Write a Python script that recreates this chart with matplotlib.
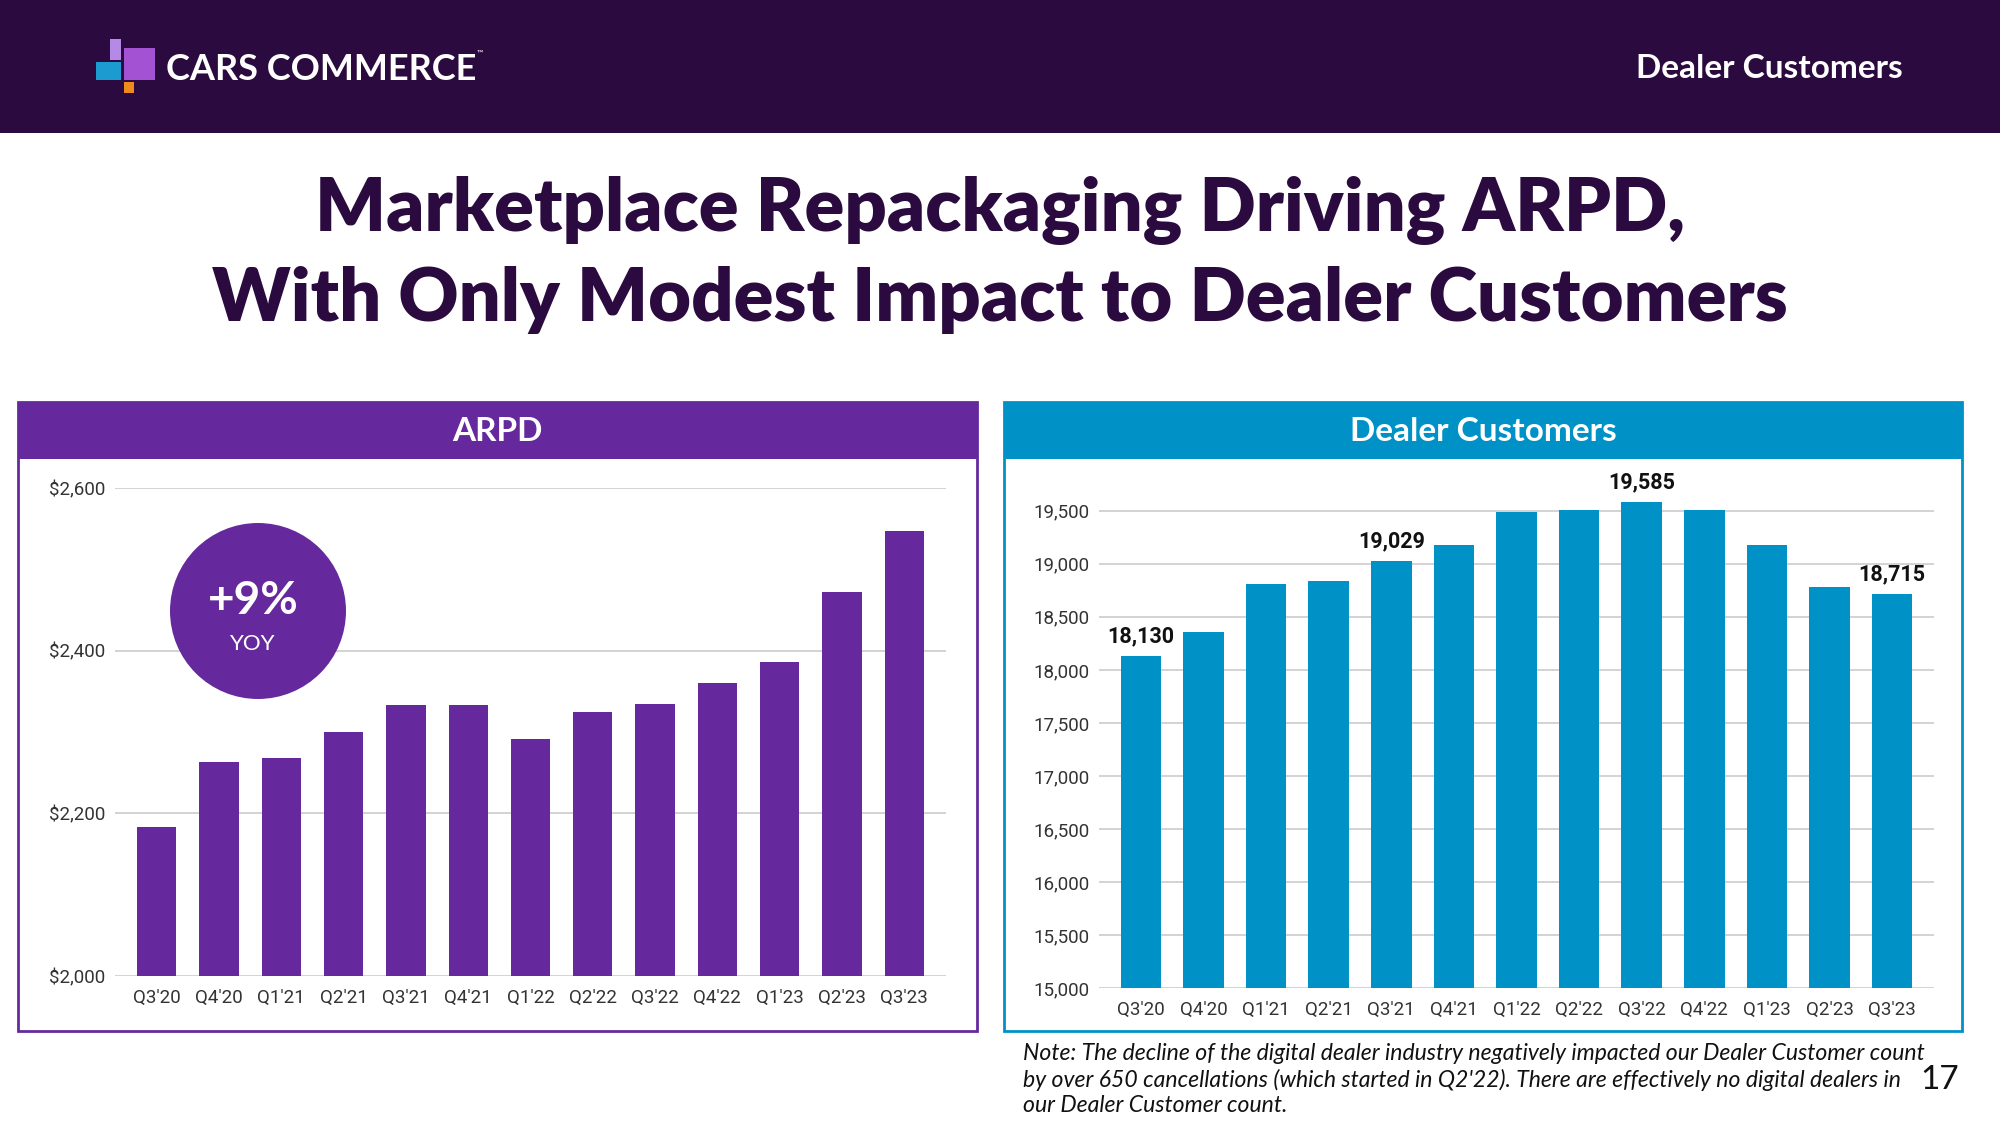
import matplotlib.pyplot as plt
from matplotlib.patches import Rectangle, Circle
from matplotlib.ticker import FuncFormatter

quarters = ["Q3'20", "Q4'20", "Q1'21", "Q2'21", "Q3'21", "Q4'21", "Q1'22",
            "Q2'22", "Q3'22", "Q4'22", "Q1'23", "Q2'23", "Q3'23"]
arpd = [2183, 2263, 2268, 2300, 2333, 2333, 2291, 2325, 2335, 2360, 2386, 2472, 2547]
dealers = [18130, 18356, 18811, 18838, 19029, 19177, 19489, 19504, 19585,
           19504, 19177, 18784, 18715]
labeled = [0, 4, 8, 12]

arpd_ticks = [2000, 2200, 2400, 2600]
dealer_ticks = [15000, 15500, 16000, 16500, 17000, 17500, 18000, 18500, 19000, 19500]

DARK = "#2B0B3F"
PURPLE = "#65299D"
BLUE = "#0092C7"
GRID = "#CCCCCC"
W, H = 2000, 1125

plt.rcParams["font.family"] = ["Lato", "DejaVu Sans"]

fig = plt.figure(figsize=(20, 11.25), dpi=100)


def rect(x0, y0, x1, y1, **kw):
    fig.add_artist(Rectangle((x0 / W, 1 - y1 / H), (x1 - x0) / W, (y1 - y0) / H,
                             transform=fig.transFigure, zorder=-1, **kw))


def fx(px):
    return px / W


def fy(py):
    return 1 - py / H


# top banner
rect(0, 0, W, 133, color=DARK, lw=0)
rect(110, 39, 121, 60, color="#B58AE6", lw=0)
rect(124, 48, 155, 80, color="#A352D3", lw=0)
rect(96, 62, 121, 80, color="#1C9BD0", lw=0)
rect(124, 82, 134, 93, color="#F08A1C", lw=0)
fig.text(fx(166), fy(80), "CARS COMMERCE", color="white", fontsize=26,
         fontweight="bold", va="baseline")
fig.text(fx(477), fy(56), "™", color="white", fontsize=6, va="baseline")
fig.text(fx(1903), fy(69), "Dealer Customers", color="white", fontsize=24,
         fontweight="bold", ha="right", va="center")

# title
fig.text(0.5, fy(231), "Marketplace Repackaging Driving ARPD,", color=DARK,
         fontsize=53.3, fontweight="heavy", ha="center", va="baseline")
fig.text(0.5, fy(321), "With Only Modest Impact to Dealer Customers", color=DARK,
         fontsize=53.3, fontweight="heavy", ha="center", va="baseline")

# panels
rect(18, 402, 977, 1031, facecolor="white", edgecolor=PURPLE, lw=2)
rect(18, 402, 977, 459, color=PURPLE, lw=0)
fig.text(fx(497), fy(431), "ARPD", color="white", fontsize=24,
         fontweight="bold", ha="center", va="center")
rect(1004, 402, 1962, 1031, facecolor="white", edgecolor=BLUE, lw=2)
rect(1004, 402, 1962, 459, color=BLUE, lw=0)
fig.text(fx(1483), fy(431), "Dealer Customers", color="white", fontsize=24,
         fontweight="bold", ha="center", va="center")

x = range(len(quarters))

# ARPD chart
ax1 = fig.add_axes([fx(115), fy(976), (946 - 115) / W, (976 - 488) / H])
ax1.bar(x, arpd, width=0.63, color=PURPLE, zorder=3)
ax1.set_ylim(2000, 2600)
ax1.set_yticks(arpd_ticks)
ax1.yaxis.set_major_formatter(FuncFormatter(lambda v, p: f"${v:,.0f}"))

# Dealer chart
ax2 = fig.add_axes([fx(1099), fy(988), (1934 - 1099) / W, (988 - 479) / H])
ax2.bar(x, dealers, width=0.65, color=BLUE, zorder=3)
ax2.set_ylim(15000, 19800)
ax2.set_yticks(dealer_ticks)
ax2.yaxis.set_major_formatter(FuncFormatter(lambda v, p: f"{v:,.0f}"))
for i in labeled:
    ax2.annotate(f"{dealers[i]:,}", (i, dealers[i]), xytext=(0, 6),
                 textcoords="offset points", ha="center", va="bottom",
                 fontsize=15.5, fontweight="bold", color="#111111",
                 family="Roboto")

for ax in (ax1, ax2):
    ax.set_zorder(2)
    ax.set_xlim(-0.67, 12.67)
    ax.set_xticks(list(x))
    ax.set_xticklabels(quarters)
    ax.patch.set_alpha(0)
    for s in ax.spines.values():
        s.set_visible(False)
    ax.grid(axis="y", color=GRID, lw=1.2, zorder=0)
    ax.tick_params(length=0, labelsize=13.5, colors="#333333", pad=7)
    ax.tick_params(axis="x", pad=9.5)
    for lab in ax.get_xticklabels() + ax.get_yticklabels():
        lab.set_family("Roboto")

# YoY badge
fig.add_artist(Circle((2.58, 11.25 - 6.11), 0.88, transform=fig.dpi_scale_trans,
                      color=PURPLE, lw=0, zorder=5))
fig.text(fx(253), fy(601), "+9%", color="white", fontsize=33,
         fontweight="bold", ha="center", va="center", zorder=6)
fig.text(fx(253), fy(644), "YOY", color="white", fontsize=16,
         ha="center", va="center", zorder=6)

# note
note = ["Note: The decline of the digital dealer industry negatively impacted our Dealer Customer count",
        "by over 650 cancellations (which started in Q2'22). There are effectively no digital dealers in",
        "our Dealer Customer count."]
for k, line in enumerate(note):
    fig.text(fx(1023), fy(1053 + 26.5 * k), line, color="#111111", fontsize=16.6,
             style="italic", va="center")
fig.text(fx(1940), fy(1080), "17", color="#111111", fontsize=24,
         ha="center", va="center")

fig.savefig("out.png", dpi=100)
